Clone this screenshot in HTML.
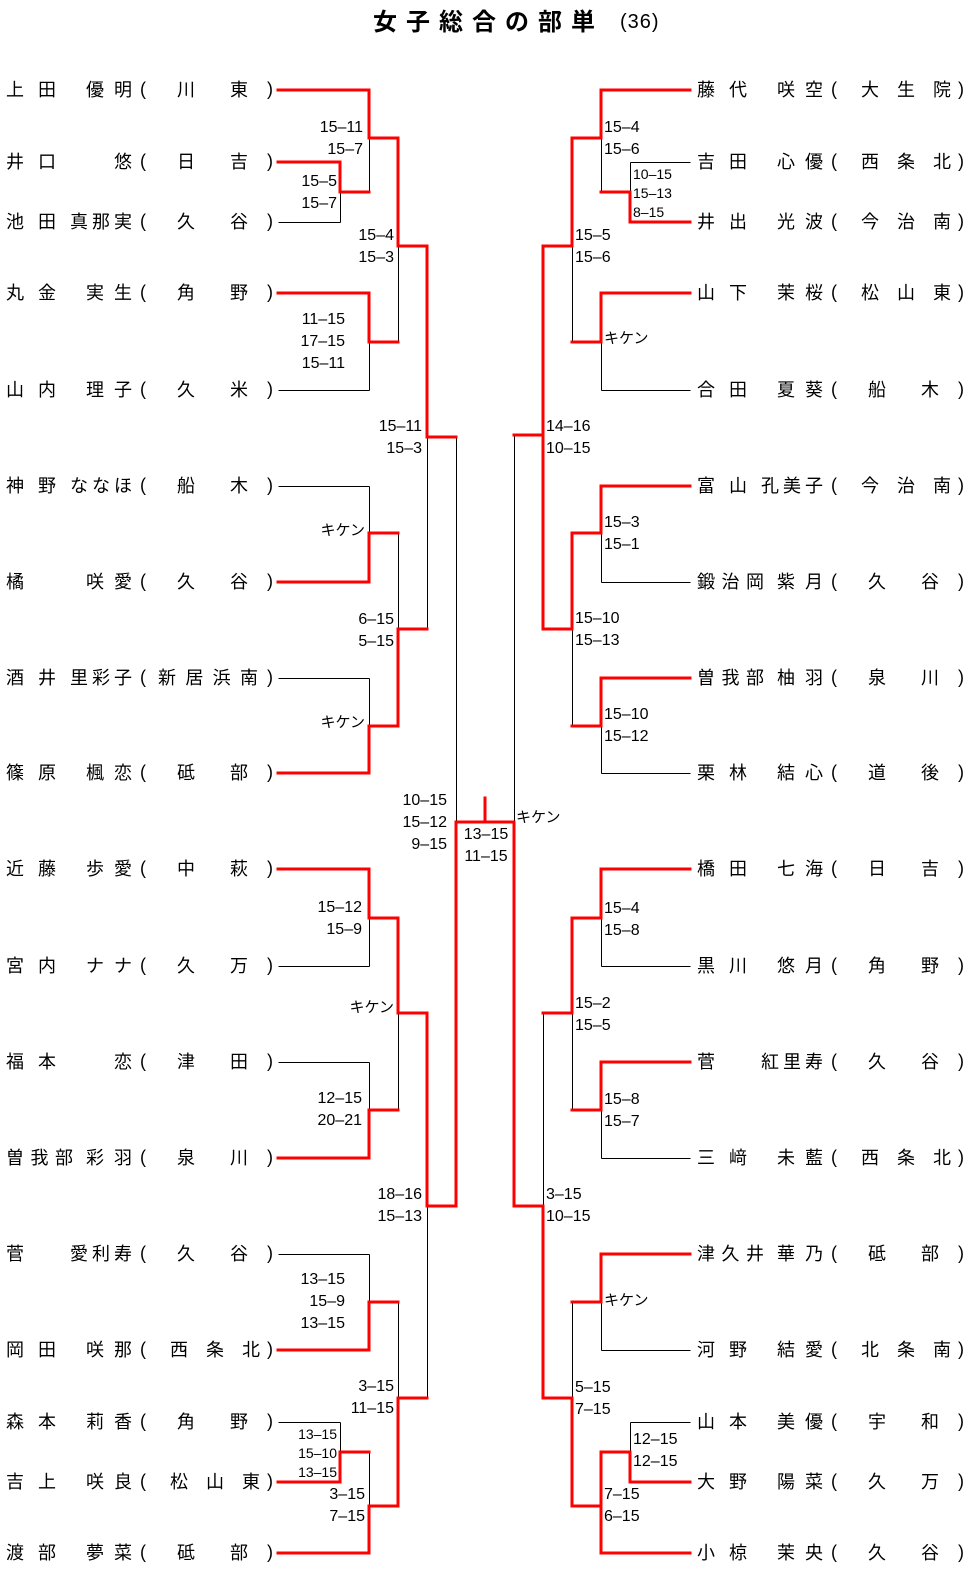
<!DOCTYPE html>
<html><head><meta charset="utf-8">
<style>
html,body{margin:0;padding:0;background:#fff;}
body{width:971px;height:1579px;position:relative;overflow:hidden;font-family:"Liberation Sans","Noto Sans CJK JP",sans-serif;color:#000;}
svg{position:absolute;left:0;top:0;}
.t{position:absolute;left:373px;top:6px;font-family:"Liberation Sans","Noto Sans CJK JP",sans-serif;font-weight:bold;font-size:24px;letter-spacing:9px;line-height:34px;}
.t2{position:absolute;left:620px;top:9px;font-size:20px;line-height:26px;letter-spacing:1px;}
.r{position:absolute;height:22px;width:275px;font-family:"Liberation Sans","Noto Sans CJK JP",sans-serif;font-size:18px;line-height:22px;}
.r i{position:absolute;top:0;font-style:normal;text-align:justify;text-align-last:justify;text-justify:inter-character;}
.r b{position:absolute;top:-1px;font-weight:normal;font-family:"Liberation Sans",sans-serif;}
.s{left:0;width:50px}.s3{width:67px}.s1{width:18px}
.g{left:80px;width:46px}.g3{left:64px;width:62px}.g1{text-align-last:right!important}
.c{left:171px;width:71px}.c3{left:164px;width:90px}.c4{left:152px;width:100px}
.p{left:134px}.q{left:261px}
.sc{position:absolute;font-family:"Liberation Sans",sans-serif;font-size:16px;line-height:22px;white-space:nowrap;}
.L{text-align:right;}
.sm{font-size:14px;line-height:19px;}
.k{font-family:"Noto Sans CJK JP",sans-serif;font-size:15px;}
</style></head><body>
<div class="t">女子総合の部単</div><div class="t2">(36)</div>

<svg width="971" height="1579" fill="none">
<g stroke="#000" stroke-width="1" shape-rendering="crispEdges" transform="translate(0.5,0.5)">
<path d="M278 222H340M340 192V222M369 138V192M278 390H369M369 342V390M398 246V342M278 486H369M369 486V533M278 678H369M369 678V726M398 533V629M427 437V629M456 437V822M278 966H369M369 918V966M278 1062H369M369 1062V1110M398 1013V1110M427 1206V1398M278 1254H369M369 1254V1302M278 1422H340M340 1422V1452M369 1452V1506M398 1302V1398"/>
<path d="M630 162H690M630 162V192M601 138V192M601 390H690M601 342V390M572 246V342M601 582H690M601 533V582M601 773H690M601 726V773M572 629V726M514 435V822M601 966H690M601 918V966M601 1158H690M601 1110V1158M572 1013V1110M543 1013V1206M601 1350H690M601 1302V1350M630 1422H690M630 1422V1452M572 1302V1398"/>
</g>
<g stroke="#f00" stroke-width="3" stroke-linecap="square" stroke-linejoin="miter" shape-rendering="crispEdges">
<path d="M278 90H369V138H398V246H427V437H456"/>
<path d="M278 162H340V192H369"/>
<path d="M278 293H369V342H398"/>
<path d="M278 582H369V533H398"/>
<path d="M278 773H369V726H398V629H427"/>
<path d="M278 869H369V918H398V1013H427V1206H456V822H514V1206H543"/>
<path d="M485 798V822"/>
<path d="M278 1158H369V1110H398"/>
<path d="M278 1350H369V1302H398"/>
<path d="M278 1482H340V1452H369"/>
<path d="M278 1553H369V1506H398V1398H427"/>
<path d="M690 90H601V138H572V246H543V629H572V533H601V486H690"/>
<path d="M690 222H630V192H601"/>
<path d="M690 293H601V342H572"/>
<path d="M543 435H514"/>
<path d="M690 678H601V726H572"/>
<path d="M690 869H601V918H572V1013H543"/>
<path d="M690 1062H601V1110H572"/>
<path d="M543 1206V1398H572V1506H601V1553H690"/>
<path d="M690 1254H601V1302H572"/>
<path d="M690 1482H630V1452H601V1506"/>
</g>
</svg>

<!-- left names -->
<div class="r" style="left:6px;top:79px"><i class="s">上田</i><i class="g">優明</i><b class="p">(</b><i class="c">川東</i><b class="q">)</b></div>
<div class="r" style="left:6px;top:151px"><i class="s">井口</i><i class="g g1">悠</i><b class="p">(</b><i class="c">日吉</i><b class="q">)</b></div>
<div class="r" style="left:6px;top:211px"><i class="s">池田</i><i class="g g3">真那実</i><b class="p">(</b><i class="c">久谷</i><b class="q">)</b></div>
<div class="r" style="left:6px;top:282px"><i class="s">丸金</i><i class="g">実生</i><b class="p">(</b><i class="c">角野</i><b class="q">)</b></div>
<div class="r" style="left:6px;top:379px"><i class="s">山内</i><i class="g">理子</i><b class="p">(</b><i class="c">久米</i><b class="q">)</b></div>
<div class="r" style="left:6px;top:475px"><i class="s">神野</i><i class="g g3">ななほ</i><b class="p">(</b><i class="c">船木</i><b class="q">)</b></div>
<div class="r" style="left:6px;top:571px"><i class="s s1">橘</i><i class="g">咲愛</i><b class="p">(</b><i class="c">久谷</i><b class="q">)</b></div>
<div class="r" style="left:6px;top:667px"><i class="s">酒井</i><i class="g g3">里彩子</i><b class="p">(</b><i class="c c4">新居浜南</i><b class="q">)</b></div>
<div class="r" style="left:6px;top:762px"><i class="s">篠原</i><i class="g">楓恋</i><b class="p">(</b><i class="c">砥部</i><b class="q">)</b></div>
<div class="r" style="left:6px;top:858px"><i class="s">近藤</i><i class="g">歩愛</i><b class="p">(</b><i class="c">中萩</i><b class="q">)</b></div>
<div class="r" style="left:6px;top:955px"><i class="s">宮内</i><i class="g">ナナ</i><b class="p">(</b><i class="c">久万</i><b class="q">)</b></div>
<div class="r" style="left:6px;top:1051px"><i class="s">福本</i><i class="g g1">恋</i><b class="p">(</b><i class="c">津田</i><b class="q">)</b></div>
<div class="r" style="left:6px;top:1147px"><i class="s s3">曽我部</i><i class="g">彩羽</i><b class="p">(</b><i class="c">泉川</i><b class="q">)</b></div>
<div class="r" style="left:6px;top:1243px"><i class="s s1">菅</i><i class="g g3">愛利寿</i><b class="p">(</b><i class="c">久谷</i><b class="q">)</b></div>
<div class="r" style="left:6px;top:1339px"><i class="s">岡田</i><i class="g">咲那</i><b class="p">(</b><i class="c c3">西条北</i><b class="q">)</b></div>
<div class="r" style="left:6px;top:1411px"><i class="s">森本</i><i class="g">莉香</i><b class="p">(</b><i class="c">角野</i><b class="q">)</b></div>
<div class="r" style="left:6px;top:1471px"><i class="s">吉上</i><i class="g">咲良</i><b class="p">(</b><i class="c c3">松山東</i><b class="q">)</b></div>
<div class="r" style="left:6px;top:1542px"><i class="s">渡部</i><i class="g">夢菜</i><b class="p">(</b><i class="c">砥部</i><b class="q">)</b></div>

<!-- right names -->
<div class="r" style="left:697px;top:79px"><i class="s">藤代</i><i class="g">咲空</i><b class="p">(</b><i class="c c3">大生院</i><b class="q">)</b></div>
<div class="r" style="left:697px;top:151px"><i class="s">吉田</i><i class="g">心優</i><b class="p">(</b><i class="c c3">西条北</i><b class="q">)</b></div>
<div class="r" style="left:697px;top:211px"><i class="s">井出</i><i class="g">光波</i><b class="p">(</b><i class="c c3">今治南</i><b class="q">)</b></div>
<div class="r" style="left:697px;top:282px"><i class="s">山下</i><i class="g">茉桜</i><b class="p">(</b><i class="c c3">松山東</i><b class="q">)</b></div>
<div class="r" style="left:697px;top:379px"><i class="s">合田</i><i class="g">夏葵</i><b class="p">(</b><i class="c">船木</i><b class="q">)</b></div>
<div class="r" style="left:697px;top:475px"><i class="s">富山</i><i class="g g3">孔美子</i><b class="p">(</b><i class="c c3">今治南</i><b class="q">)</b></div>
<div class="r" style="left:697px;top:571px"><i class="s s3">鍛治岡</i><i class="g">紫月</i><b class="p">(</b><i class="c">久谷</i><b class="q">)</b></div>
<div class="r" style="left:697px;top:667px"><i class="s s3">曽我部</i><i class="g">柚羽</i><b class="p">(</b><i class="c">泉川</i><b class="q">)</b></div>
<div class="r" style="left:697px;top:762px"><i class="s">栗林</i><i class="g">結心</i><b class="p">(</b><i class="c">道後</i><b class="q">)</b></div>
<div class="r" style="left:697px;top:858px"><i class="s">橋田</i><i class="g">七海</i><b class="p">(</b><i class="c">日吉</i><b class="q">)</b></div>
<div class="r" style="left:697px;top:955px"><i class="s">黒川</i><i class="g">悠月</i><b class="p">(</b><i class="c">角野</i><b class="q">)</b></div>
<div class="r" style="left:697px;top:1051px"><i class="s s1">菅</i><i class="g g3">紅里寿</i><b class="p">(</b><i class="c">久谷</i><b class="q">)</b></div>
<div class="r" style="left:697px;top:1147px"><i class="s">三﨑</i><i class="g">未藍</i><b class="p">(</b><i class="c c3">西条北</i><b class="q">)</b></div>
<div class="r" style="left:697px;top:1243px"><i class="s s3">津久井</i><i class="g">華乃</i><b class="p">(</b><i class="c">砥部</i><b class="q">)</b></div>
<div class="r" style="left:697px;top:1339px"><i class="s">河野</i><i class="g">結愛</i><b class="p">(</b><i class="c c3">北条南</i><b class="q">)</b></div>
<div class="r" style="left:697px;top:1411px"><i class="s">山本</i><i class="g">美優</i><b class="p">(</b><i class="c">宇和</i><b class="q">)</b></div>
<div class="r" style="left:697px;top:1471px"><i class="s">大野</i><i class="g">陽菜</i><b class="p">(</b><i class="c">久万</i><b class="q">)</b></div>
<div class="r" style="left:697px;top:1542px"><i class="s">小椋</i><i class="g">茉央</i><b class="p">(</b><i class="c">久谷</i><b class="q">)</b></div>

<!-- left scores -->
<div class="sc L" style="right:608px;top:117px">15–11<br>15–7</div>
<div class="sc L" style="right:634px;top:171px">15–5<br>15–7</div>
<div class="sc L" style="right:577px;top:225px">15–4<br>15–3</div>
<div class="sc L" style="right:626px;top:309px">11–15<br>17–15<br>15–11</div>
<div class="sc L" style="right:549px;top:416px">15–11<br>15–3</div>
<div class="sc L k" style="right:606px;top:519px">キケン</div>
<div class="sc L" style="right:577px;top:609px">6–15<br>5–15</div>
<div class="sc L k" style="right:606px;top:711px">キケン</div>
<div class="sc L" style="right:524px;top:790px">10–15<br>15–12<br>9–15</div>
<div class="sc" style="left:458px;top:824px;width:56px;text-align:center">13–15<br>11–15</div>
<div class="sc k" style="left:516px;top:806px">キケン</div>
<div class="sc L" style="right:609px;top:897px">15–12<br>15–9</div>
<div class="sc L k" style="right:577px;top:996px">キケン</div>
<div class="sc L" style="right:609px;top:1088px">12–15<br>20–21</div>
<div class="sc L" style="right:549px;top:1184px">18–16<br>15–13</div>
<div class="sc L" style="right:626px;top:1269px">13–15<br>15–9<br>13–15</div>
<div class="sc L" style="right:577px;top:1376px">3–15<br>11–15</div>
<div class="sc L sm" style="right:634px;top:1425px">13–15<br>15–10<br>13–15</div>
<div class="sc L" style="right:606px;top:1484px">3–15<br>7–15</div>

<!-- right scores -->
<div class="sc" style="left:604px;top:117px">15–4<br>15–6</div>
<div class="sc sm" style="left:633px;top:165px">10–15<br>15–13<br>8–15</div>
<div class="sc" style="left:575px;top:225px">15–5<br>15–6</div>
<div class="sc k" style="left:604px;top:327px">キケン</div>
<div class="sc" style="left:546px;top:416px">14–16<br>10–15</div>
<div class="sc" style="left:604px;top:512px">15–3<br>15–1</div>
<div class="sc" style="left:575px;top:608px">15–10<br>15–13</div>
<div class="sc" style="left:604px;top:704px">15–10<br>15–12</div>
<div class="sc" style="left:604px;top:898px">15–4<br>15–8</div>
<div class="sc" style="left:575px;top:993px">15–2<br>15–5</div>
<div class="sc" style="left:604px;top:1089px">15–8<br>15–7</div>
<div class="sc" style="left:546px;top:1184px">3–15<br>10–15</div>
<div class="sc k" style="left:604px;top:1289px">キケン</div>
<div class="sc" style="left:575px;top:1377px">5–15<br>7–15</div>
<div class="sc" style="left:633px;top:1429px">12–15<br>12–15</div>
<div class="sc" style="left:604px;top:1484px">7–15<br>6–15</div>
</body></html>
